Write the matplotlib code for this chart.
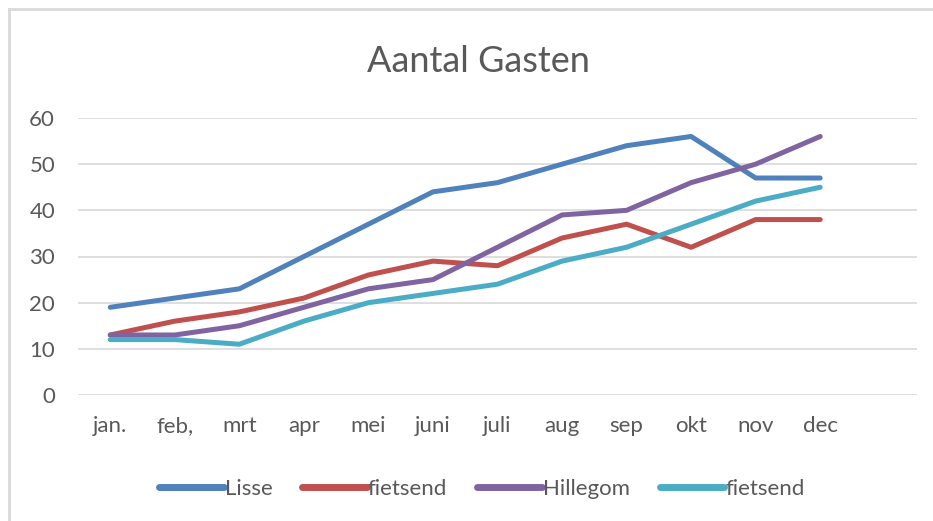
import matplotlib
matplotlib.use("Agg")
import matplotlib.pyplot as plt
from matplotlib.lines import Line2D

months = ["jan.", "feb,", "mrt", "apr", "mei", "juni", "juli", "aug", "sep", "okt", "nov", "dec"]
lisse = [19, 21, 23, 30, 37, 44, 46, 50, 54, 56, 47, 47]
fietsend1 = [13, 16, 18, 21, 26, 29, 28, 34, 37, 32, 38, 38]
hillegom = [13, 13, 15, 19, 23, 25, 32, 39, 40, 46, 50, 56]
fietsend2 = [12, 12, 11, 16, 20, 22, 24, 29, 32, 37, 42, 45]
series_names = ["Lisse", "fietsend", "Hillegom", "fietsend"]
yticks = [0, 10, 20, 30, 40, 50, 60]

colors = ["#4F81BD", "#C0504D", "#8064A2", "#4BACC6"]
plt.rcParams['font.family'] = ['Lato', 'DejaVu Sans']
txt = "#595959"

W, H = 933, 521
fig = plt.figure(figsize=(W / 100, H / 100), dpi=100)
ax = fig.add_axes([78 / W, 1 - 395 / H, (917 - 78) / W, (395 - 118) / H])

x = list(range(len(months)))
for vals, c, name in zip([lisse, fietsend1, hillegom, fietsend2], colors, series_names):
    ax.plot(x, vals, color=c, lw=3.6, solid_capstyle="round", solid_joinstyle="round", label=name)

ax.set_xlim(-0.5, len(months) + 0.5)
ax.set_ylim(0, 60)
ax.set_yticks(yticks)
ax.set_xticks(x)
ax.set_xticklabels(months)
ax.tick_params(axis="both", length=0, labelsize=16, colors=txt)
ax.tick_params(axis="y", pad=16.5)
ax.tick_params(axis="x", pad=15)
for s in ax.spines.values():
    s.set_visible(False)
ax.grid(axis="y", color="#D9D9D9", lw=1.2)
ax.set_axisbelow(True)

fig.text(478 / W, 1 - 72 / H, "Aantal Gasten", ha="center", va="baseline", fontsize=26, color=txt)

leg = fig.legend(loc="center", bbox_to_anchor=(482 / W, 1 - 489 / H), ncol=4, frameon=False,
                 fontsize=16, handlelength=2.9, handletextpad=0.05, columnspacing=1.35,
                 labelcolor=txt)
for h in leg.get_lines():
    h.set_linewidth(5)
    h.set_solid_capstyle("round")

# outer chart border (left and top visible)
fig.add_artist(Line2D([9 / W, 9 / W], [0, 1 - 9 / H], transform=fig.transFigure, color="#D9D9D9", lw=2))
fig.add_artist(Line2D([9 / W, 1], [1 - 9 / H, 1 - 9 / H], transform=fig.transFigure, color="#D9D9D9", lw=2))

fig.savefig("out.png", dpi=100, facecolor="white")
